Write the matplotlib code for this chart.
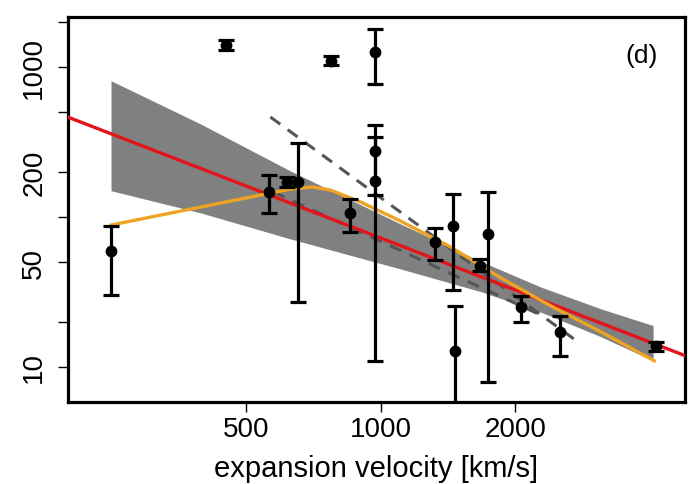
import matplotlib
matplotlib.use("Agg")
import matplotlib.pyplot as plt
import numpy as np

plt.rcParams['font.family'] = ['Liberation Sans', 'DejaVu Sans']

# observed points: velocity, value, lower and upper end of error bar
vel = [249, 450, 772, 968, 968, 968, 561, 618, 651, 855,
       1321, 1452, 1462, 1667, 1733, 2056, 2519, 4131]
val = [59.3, 1408, 1101, 1265, 277, 174.6, 147.5, 170, 170, 106,
       68.4, 87.5, 12.8, 46.9, 77, 25, 17, 13.9]
val_lo = [30.2, 1303, 1035, 770, 141, 10.9, 107, 158, 27, 80,
          51.7, 32.7, 1.0, 43.9, 7.9, 19.9, 11.9, 12.8]
val_hi = [87, 1520, 1177, 1792, 412, 343, 191, 184, 313, 132,
          84, 142, 25.6, 52.5, 146, 29.6, 21.8, 14.7]

# shaded band
band_x = [249, 394.5, 628, 1108, 1674, 2282, 3111, 4068]
band_hi = [810, 418, 202.6, 89.8, 50.6, 34.1, 24.4, 18.9]
band_lo = [149.7, 106.7, 71.4, 45.0, 31.8, 23.2, 15.9, 11.0]

# red fit line (end points)
red_x = [150, 6000]
red_y = [643, 9.2]

# orange model curve
orange_x = [249, 628, 703, 771, 901, 1107, 1433, 1857, 2404, 3113, 4093]
orange_y = [88.4, 153.6, 158.5, 151.4, 125.9, 94, 63.1, 39.2, 25.5, 17.1, 11.0]

# grey dashed lines
dashA_x = [566, 2806]
dashA_y = [464, 14.2]
dashB_x = [575, 2280]
dashB_y = [146.8, 22.2]

fig = plt.figure(figsize=(6.92, 4.85), dpi=100)
ax = fig.add_axes([0.0983, 0.169, 0.8916, 0.7939])
ax.set_xscale('log')
ax.set_yscale('log')

ax.fill_between(band_x, band_lo, band_hi, color='#808080', lw=0, zorder=1)
ax.plot(dashA_x, dashA_y, color='#555555', lw=2.2, ls=(0, (4, 3)), zorder=2)
ax.plot(dashB_x, dashB_y, color='#555555', lw=2.2, ls=(0, (4, 3)), zorder=2)
ax.plot(red_x, red_y, color='#E3141C', lw=2.4, zorder=3)
ax.plot(orange_x, orange_y, color='#EDA424', lw=2.4, zorder=4)

vel = np.array(vel)
val = np.array(val)
yerr = [val - np.array(val_lo), np.array(val_hi) - val]
ax.errorbar(vel, val, yerr=yerr, fmt='o', color='black', ms=7.5,
            elinewidth=2.3, capsize=5.5, capthick=2.3, zorder=5)

ax.set_xlim(199.5, 4795)
ax.set_ylim(5.84, 2155)

ax.set_xticks([500, 1000, 2000])
ax.set_xticklabels(['500', '1000', '2000'])
ax.set_yticks([10, 20, 50, 100, 200, 500, 1000, 2000])
ax.set_yticklabels(['10', '', '50', '', '200', '', '1000', ''],
                   rotation=90, va='center')
ax.minorticks_off()
ax.tick_params(axis='both', which='major', direction='out', length=7,
               width=1.0, labelsize=20)
ax.tick_params(axis='x', pad=3)
ax.tick_params(axis='y', pad=8)
for s in ax.spines.values():
    s.set_linewidth(2.3)

ax.set_xlabel('expansion velocity [km/s]', fontsize=21, labelpad=9)
ax.text(0.929, 0.9, '(d)', transform=ax.transAxes, fontsize=19,
        ha='center', va='center')

fig.savefig('out.png', dpi=100)
